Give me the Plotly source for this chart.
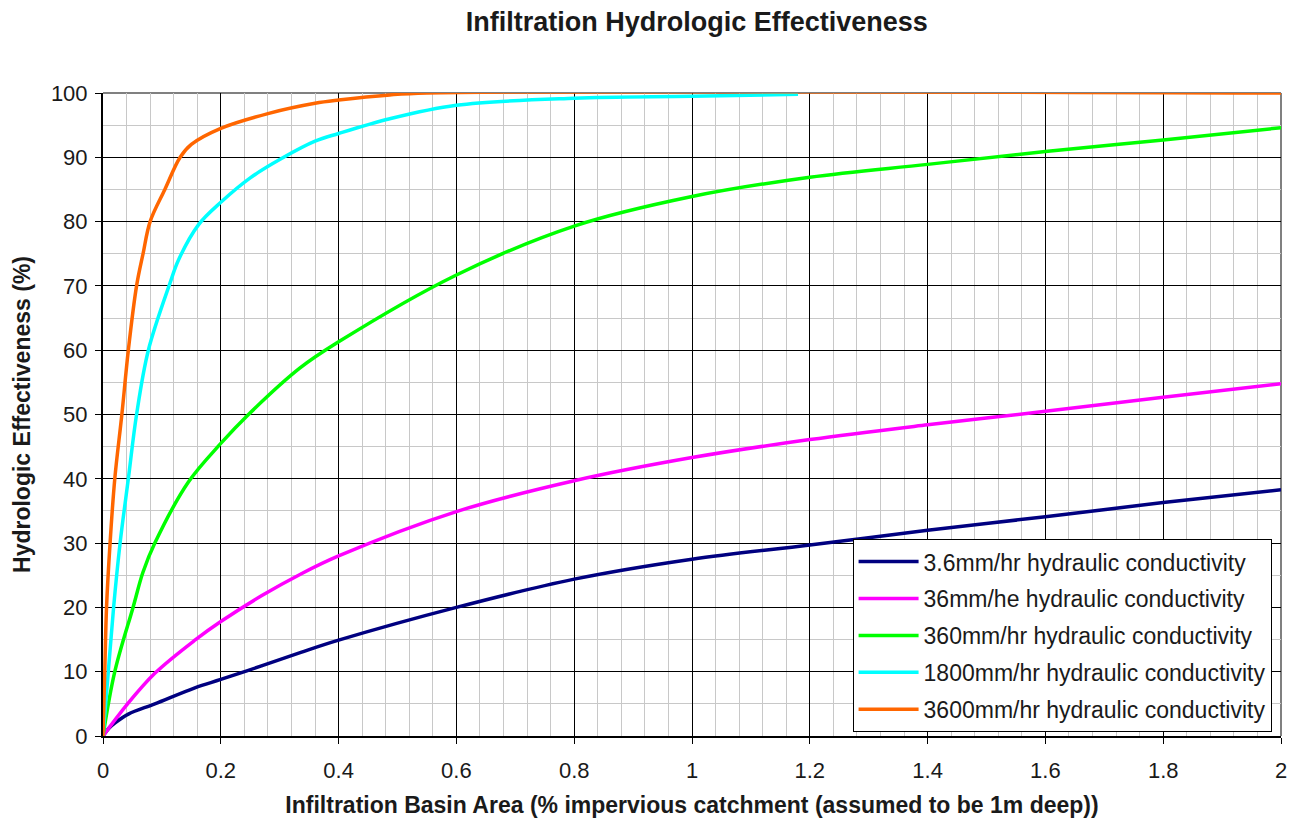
import plotly.graph_objects as go

# ---- data ----
names = [
    "3.6mm/hr hydraulic conductivity",
    "36mm/he hydraulic conductivity",
    "360mm/hr hydraulic conductivity",
    "1800mm/hr hydraulic conductivity",
    "3600mm/hr hydraulic conductivity",
]
colors = ["#000080", "#FF00FF", "#00FF00", "#00FFFF", "#FF6600"]

x_k36 = [0, 0.01, 0.02, 0.043, 0.088, 0.156, 0.2, 0.269, 0.336, 0.4, 0.6, 0.8, 1.0, 1.2, 1.4, 1.6, 1.8, 2.0]
y_k36 = [0, 1.2, 2.0, 3.4, 5.0, 7.5, 8.8, 10.9, 13.0, 14.9, 20.0, 24.4, 27.5, 29.7, 32.0, 34.1, 36.3, 38.3]

x_k36b = [0, 0.04, 0.088, 0.156, 0.2, 0.269, 0.336, 0.4, 0.6, 0.8, 1.0, 1.2, 1.4, 1.6, 1.8, 2.0]
y_k36b = [0, 4.8, 9.75, 14.9, 17.8, 21.8, 25.2, 28.0, 34.9, 39.7, 43.3, 46.1, 48.4, 50.5, 52.7, 54.8]

x_k360 = [0, 0.02, 0.051, 0.068, 0.088, 0.145, 0.2, 0.247, 0.334, 0.4, 0.6, 0.8, 1.0, 1.2, 1.4, 1.6, 1.8, 2.0]
y_k360 = [0, 10, 20, 25.5, 30, 39.5, 45.5, 50, 57.2, 61.3, 71.7, 79.3, 83.9, 86.9, 88.9, 90.9, 92.7, 94.6]

x_k1800 = [0, 0.009, 0.018, 0.029, 0.043, 0.057, 0.077, 0.114, 0.128, 0.162, 0.2, 0.25, 0.303, 0.36, 0.4, 0.487, 0.6, 0.8, 1.0, 1.18]
y_k1800 = [0, 10, 20, 30, 40, 50, 60, 70.5, 74, 79.5, 83, 86.8, 89.8, 92.5, 93.7, 96.0, 98.1, 99.2, 99.5, 99.8]

x_k3600 = [0, 0.003, 0.006, 0.012, 0.02, 0.032, 0.043, 0.057, 0.068, 0.08, 0.105, 0.131, 0.15, 0.2, 0.28, 0.36, 0.4, 0.487, 0.55, 2.0]
y_k3600 = [0, 10, 20, 30, 40, 50, 60, 70, 75, 80, 85, 90, 92, 94.5, 96.8, 98.4, 98.9, 99.7, 100, 100]

xs = [x_k36, x_k36b, x_k360, x_k1800, x_k3600]
ys = [y_k36, y_k36b, y_k360, y_k1800, y_k3600]

x_ticks = [0, 0.2, 0.4, 0.6, 0.8, 1.0, 1.2, 1.4, 1.6, 1.8, 2.0]
x_ticklabels = ["0", "0.2", "0.4", "0.6", "0.8", "1", "1.2", "1.4", "1.6", "1.8", "2"]

FONT = "Liberation Sans, Arial, sans-serif"
TXT = "#1a1a1a"
W, H = 1293, 813

fig = go.Figure()
for i in range(len(names)):
    fig.add_trace(go.Scatter(
        x=xs[i], y=ys[i], mode="lines", name=names[i],
        line=dict(color=colors[i], width=3.5, shape="spline", smoothing=1.0),
        legendgroup=str(i),
    ))

fig.update_layout(
    width=W, height=H,
    margin=dict(l=95, r=20, t=85, b=85, autoexpand=False),
    paper_bgcolor="white", plot_bgcolor="white",
    font=dict(family=FONT, color=TXT, size=22),
    title=dict(text="<b>Infiltration Hydrologic Effectiveness</b>",
               x=0.504, xref="paper", xanchor="center",
               y=1 - 14 / H, yanchor="middle",
               font=dict(family=FONT, size=27, color=TXT)),
    showlegend=True,
    legend=dict(x=0.992, y=0.006, xanchor="right", yanchor="bottom",
                bgcolor="white", bordercolor="black", borderwidth=1,
                font=dict(family=FONT, size=23, color=TXT),
                tracegroupgap=4, itemwidth=60),
    xaxis=dict(
        range=[0, 2], tickmode="array", tickvals=x_ticks, ticktext=x_ticklabels,
        automargin=False,
        showgrid=True, gridcolor="black", gridwidth=1,
        minor=dict(dtick=0.04, tick0=0, showgrid=True, gridcolor="#c8c8c8", gridwidth=1),
        showline=True, linecolor="black", linewidth=2,
        ticks="outside", ticklen=6, tickcolor="black", tickwidth=1,
        ticklabelstandoff=8,
        zeroline=False,
        title=dict(text="<b>Infiltration Basin Area (% impervious catchment (assumed to be 1m deep))</b>",
                   font=dict(family=FONT, size=23, color=TXT), standoff=14),
        tickfont=dict(family=FONT, size=22, color=TXT),
    ),
    yaxis=dict(
        range=[0, 100], dtick=10, tick0=0,
        automargin=False,
        showgrid=True, gridcolor="black", gridwidth=1,
        minor=dict(dtick=5, tick0=0, showgrid=True, gridcolor="#c8c8c8", gridwidth=1),
        showline=True, linecolor="black", linewidth=2,
        ticks="outside", ticklen=6, tickcolor="black", tickwidth=1,
        ticklabelstandoff=3,
        zeroline=False,
        title=dict(text="<b>Hydrologic Effectiveness (%)</b>",
                   font=dict(family=FONT, size=23, color=TXT), standoff=14),
        tickfont=dict(family=FONT, size=22, color=TXT),
    ),
    shapes=[
        dict(type="line", xref="paper", yref="paper", x0=0, x1=1, y0=1, y1=1,
             line=dict(color="#808080", width=2), layer="below"),
        dict(type="line", xref="paper", yref="paper", x0=1, x1=1, y0=0, y1=1,
             line=dict(color="#808080", width=2), layer="below"),
    ],
)

fig.write_html("out.html")
